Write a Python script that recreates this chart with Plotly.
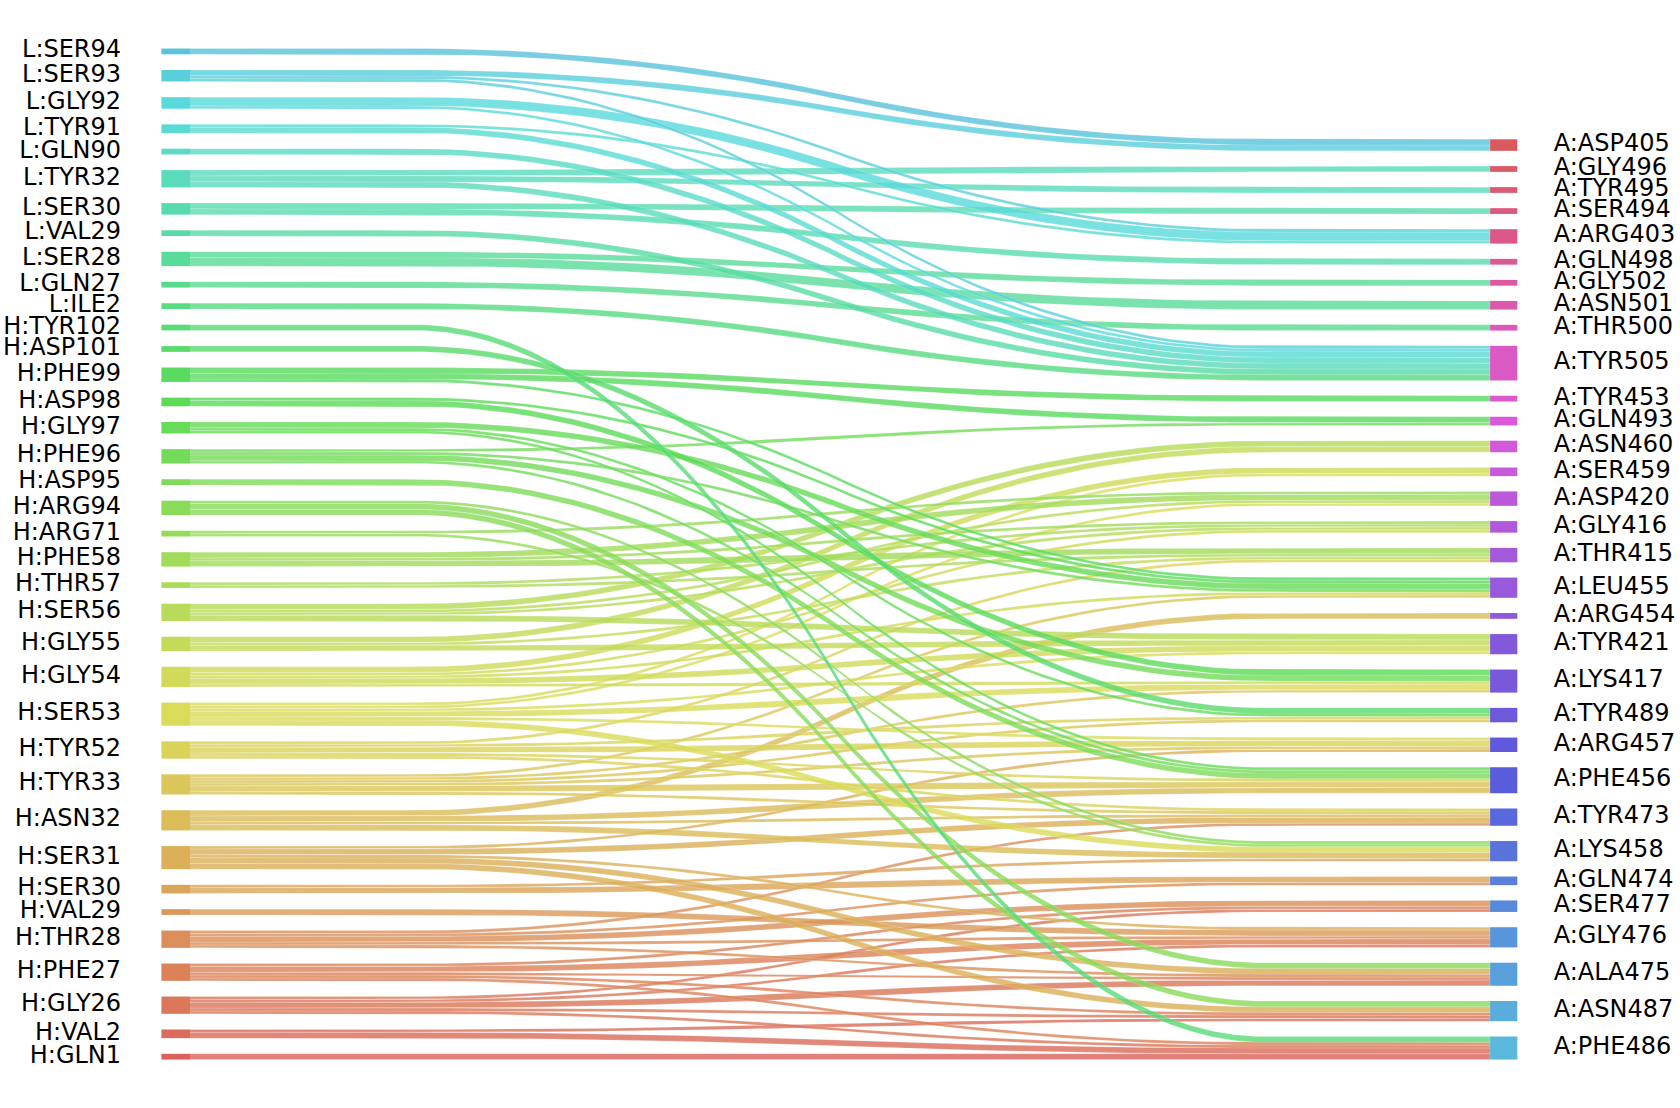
import colorsys
import numpy as np
import plotly.graph_objects as go

# nodes listed bottom -> top, in the order they are stacked
left_labels = ["H:GLN1", "H:VAL2", "H:GLY26", "H:PHE27", "H:THR28", "H:VAL29", "H:SER30",
               "H:SER31", "H:ASN32", "H:TYR33", "H:TYR52", "H:SER53", "H:GLY54", "H:GLY55",
               "H:SER56", "H:THR57", "H:PHE58", "H:ARG71", "H:ARG94", "H:ASP95", "H:PHE96",
               "H:GLY97", "H:ASP98", "H:PHE99", "H:ASP101", "H:TYR102", "L:ILE2", "L:GLN27",
               "L:SER28", "L:VAL29", "L:SER30", "L:TYR32", "L:GLN90", "L:TYR91", "L:GLY92",
               "L:SER93", "L:SER94"]
right_labels = ["A:PHE486", "A:ASN487", "A:ALA475", "A:GLY476", "A:SER477", "A:GLN474",
                "A:LYS458", "A:TYR473", "A:PHE456", "A:ARG457", "A:TYR489", "A:LYS417",
                "A:TYR421", "A:ARG454", "A:LEU455", "A:THR415", "A:GLY416", "A:ASP420",
                "A:SER459", "A:ASN460", "A:GLN493", "A:TYR453", "A:TYR505", "A:THR500",
                "A:ASN501", "A:GLY502", "A:GLN498", "A:ARG403", "A:SER494", "A:TYR495",
                "A:GLY496", "A:ASP405"]

# contacts (antibody residue -> RBD residue, contact count)
link_source = (["H:GLN1"] + ["H:VAL2"] * 2 + ["H:GLY26"] * 5 + ["H:PHE27"] * 5 + ["H:THR28"] * 5
               + ["H:VAL29"] + ["H:SER30"] * 2 + ["H:SER31"] * 5 + ["H:ASN32"] * 4 + ["H:TYR33"] * 6
               + ["H:TYR52"] * 5 + ["H:SER53"] * 6 + ["H:GLY54"] * 5 + ["H:GLY55"] * 3
               + ["H:SER56"] * 4 + ["H:THR57"] * 2 + ["H:PHE58"] * 3 + ["H:ARG71"] * 2
               + ["H:ARG94"] * 3 + ["H:ASP95"] + ["H:PHE96"] * 4 + ["H:GLY97"] * 3 + ["H:ASP98"] * 2
               + ["H:PHE99"] * 3 + ["H:ASP101"] + ["H:TYR102"] + ["L:ILE2"] + ["L:GLN27"]
               + ["L:SER28"] * 2 + ["L:VAL29"] + ["L:SER30"] * 2 + ["L:TYR32"] * 3 + ["L:GLN90"]
               + ["L:TYR91"] * 2 + ["L:GLY92"] * 2 + ["L:SER93"] * 3 + ["L:SER94"])
link_target = ["A:PHE486",
               "A:PHE486", "A:ASN487",
               "A:PHE486", "A:ASN487", "A:ALA475", "A:GLY476", "A:SER477",
               "A:PHE486", "A:ASN487", "A:ALA475", "A:GLY476", "A:SER477",
               "A:ALA475", "A:GLY476", "A:SER477", "A:GLN474", "A:TYR473",
               "A:GLY476",
               "A:GLN474", "A:LYS458",
               "A:ASN487", "A:ALA475", "A:GLY476", "A:TYR473", "A:ARG457",
               "A:LYS458", "A:TYR473", "A:PHE456", "A:ARG454",
               "A:TYR473", "A:PHE456", "A:ARG457", "A:TYR489", "A:LYS417", "A:LEU455",
               "A:TYR473", "A:ARG457", "A:TYR489", "A:PHE456", "A:THR415",
               "A:ARG457", "A:LYS458", "A:LYS417", "A:TYR421", "A:SER459", "A:ASP420",
               "A:LYS417", "A:LEU455", "A:TYR421", "A:GLY416", "A:SER459",
               "A:TYR421", "A:THR415", "A:ASN460",
               "A:TYR421", "A:GLY416", "A:ASP420", "A:ASN460",
               "A:THR415", "A:GLY416",
               "A:THR415", "A:GLY416", "A:ASP420",
               "A:LYS458", "A:ASP420",
               "A:LYS458", "A:ALA475", "A:ASN487",
               "A:PHE456",
               "A:GLN493", "A:LEU455", "A:LYS417", "A:PHE456",
               "A:LEU455", "A:TYR489", "A:PHE456",
               "A:LEU455", "A:LYS417",
               "A:TYR453", "A:GLN493", "A:LEU455",
               "A:TYR489",
               "A:PHE486",
               "A:TYR505",
               "A:THR500",
               "A:GLY502", "A:ASN501",
               "A:TYR505",
               "A:SER494", "A:GLN498",
               "A:GLY496", "A:TYR495", "A:TYR505",
               "A:TYR505",
               "A:ARG403", "A:TYR505",
               "A:ARG403", "A:TYR505",
               "A:ASP405", "A:ARG403", "A:TYR505",
               "A:ASP405"]
link_weight = [2,
               2, 1,
               1, 1, 2, 1, 1,
               1, 1, 1, 2, 1,
               1, 1, 2, 1, 1,
               2,
               2, 1,
               2, 2, 1, 2, 1,
               2, 1, 2, 2,
               1, 2, 1, 1, 1, 1,
               1, 2, 1, 1, 1,
               1, 2, 2, 1, 1, 1,
               1, 1, 2, 1, 2,
               2, 1, 2,
               2, 1, 1, 2,
               1, 1,
               2, 1, 2,
               1, 1,
               1, 2, 2,
               2,
               1, 1, 2, 1,
               2, 1, 1,
               1, 2,
               2, 2, 1,
               2,
               2,
               2,
               2,
               2, 3,
               2,
               2, 2,
               2, 2, 2,
               2,
               1, 2,
               3, 1,
               2, 1, 1,
               2]

X_MAX = 100
GAP_L = 0.035
GAP_R = 0.0341
FONT = "DejaVu Sans"

# hls palette over all labels (left first, then right)
all_labels = left_labels + right_labels
n = len(all_labels)
colors = {}
for i, lab in enumerate(all_labels):
    h = (i / n + 0.01) % 1
    r, g, b = colorsys.hls_to_rgb(h, 0.6, 0.65)
    colors[lab] = (int(round(r * 255)), int(round(g * 255)), int(round(b * 255)))


def rgba(lab, a):
    r, g, b = colors[lab]
    return f"rgba({r},{g},{b},{a})"


pairs = {}
for s, t, w in zip(link_source, link_target, link_weight):
    pairs[(s, t)] = pairs.get((s, t), 0) + w
total = sum(link_weight)


def stack(labels, key, gap_frac):
    out = {}
    bottom = 0.0
    for lab in labels:
        size = sum(w for p, w in pairs.items() if p[key] == lab)
        out[lab] = {"bottom": bottom, "top": bottom + size}
        bottom += size + gap_frac * total
    return out


left_pos = stack(left_labels, 0, GAP_L)
right_pos = stack(right_labels, 1, GAP_R)
left_top = left_pos[left_labels[-1]]["top"]

fig = go.Figure()

# node bars
for lab in left_labels:
    b, t = left_pos[lab]["bottom"], left_pos[lab]["top"]
    fig.add_trace(go.Scatter(x=[-0.022 * X_MAX, 0, 0, -0.022 * X_MAX], y=[b, b, t, t],
                             fill="toself", fillcolor=rgba(lab, 0.99), mode="lines",
                             line=dict(width=0), hoverinfo="skip", showlegend=False))
for lab in right_labels:
    b, t = right_pos[lab]["bottom"], right_pos[lab]["top"]
    fig.add_trace(go.Scatter(x=[X_MAX, 1.021 * X_MAX, 1.021 * X_MAX, X_MAX], y=[b, b, t, t],
                             fill="toself", fillcolor=rgba(lab, 0.99), mode="lines",
                             line=dict(width=0), hoverinfo="skip", showlegend=False))


def smooth(a, b):
    ys = np.array(50 * [a] + 50 * [b], dtype=float)
    ys = np.convolve(ys, 0.05 * np.ones(20), mode="valid")
    ys = np.convolve(ys, 0.05 * np.ones(20), mode="valid")
    return ys


# strips, stacked bottom-up on both sides
lb = {lab: left_pos[lab]["bottom"] for lab in left_labels}
rb = {lab: right_pos[lab]["bottom"] for lab in right_labels}
for ll in left_labels:
    for rl in right_labels:
        w = pairs.get((ll, rl))
        if not w:
            continue
        ys_d = smooth(lb[ll], rb[rl])
        ys_u = smooth(lb[ll] + w, rb[rl] + w)
        lb[ll] += w
        rb[rl] += w
        xs = np.linspace(0, X_MAX, len(ys_d))
        fig.add_trace(go.Scatter(x=np.concatenate([xs, xs[::-1]]),
                                 y=np.concatenate([ys_d, ys_u[::-1]]),
                                 fill="toself", fillcolor=rgba(ll, 0.8), mode="lines",
                                 line=dict(width=0.6, color="rgba(255,255,255,0.3)"),
                                 hoverinfo="skip", showlegend=False))

# labels
fig.add_trace(go.Scatter(
    x=[-0.053 * X_MAX] * len(left_labels),
    y=[(left_pos[l]["bottom"] + left_pos[l]["top"]) / 2 for l in left_labels],
    text=left_labels, mode="text", textposition="middle left",
    textfont=dict(family=FONT, size=24, color="black"), hoverinfo="skip", showlegend=False))
fig.add_trace(go.Scatter(
    x=[1.049 * X_MAX] * len(right_labels),
    y=[(right_pos[l]["bottom"] + right_pos[l]["top"]) / 2 for l in right_labels],
    text=right_labels, mode="text", textposition="middle right",
    textfont=dict(family=FONT, size=24, color="black"), hoverinfo="skip", showlegend=False))

fig.update_layout(
    width=1680, height=1108,
    margin=dict(l=0, r=0, t=0, b=0),
    paper_bgcolor="white", plot_bgcolor="white",
    xaxis=dict(visible=False, range=[-0.14615 * X_MAX, 1.14615 * X_MAX]),
    yaxis=dict(visible=False, range=[-0.0479 * left_top, 1.048 * left_top]),
)

# drop the page's default body margin so the figure sits at the window corner
fig.write_html("out.html", config={"displayModeBar": False},
               post_script="document.body.style.margin='0px';")
